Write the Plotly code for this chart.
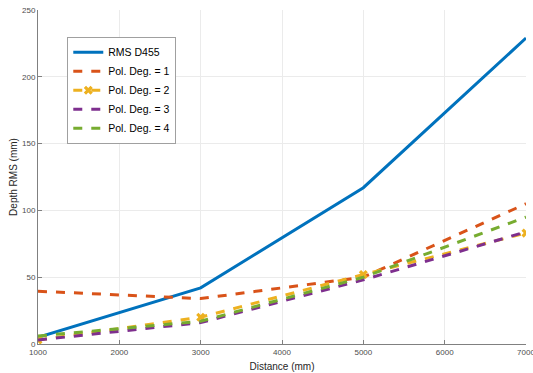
import plotly.graph_objects as go

distance = [1000, 3000, 5000, 7000]
rms_d455 = [5, 42, 117, 229]
pol1 = [39.5, 34, 50, 105]
pol2 = [3, 20, 52, 83]
pol3 = [3, 16, 48, 84]
pol4 = [6, 17, 50, 95]

x_ticks = [1000, 2000, 3000, 4000, 5000, 6000, 7000]
y_ticks = [0, 50, 100, 150, 200, 250]

fig = go.Figure()
fig.add_trace(go.Scatter(x=distance, y=rms_d455, name="RMS D455", mode="lines",
                         line=dict(color="#0072BD", width=3)))
fig.add_trace(go.Scatter(x=distance, y=pol1, name="Pol. Deg. = 1", mode="lines",
                         line=dict(color="#D95319", width=3, dash="dash")))
fig.add_trace(go.Scatter(x=distance, y=pol2, name="Pol. Deg. = 2", mode="lines+markers",
                         line=dict(color="#EDB120", width=3, dash="dash"),
                         marker=dict(symbol="x", size=8, color="#EDB120")))
fig.add_trace(go.Scatter(x=distance, y=pol3, name="Pol. Deg. = 3", mode="lines",
                         line=dict(color="#7E2F8E", width=3, dash="dash")))
fig.add_trace(go.Scatter(x=distance, y=pol4, name="Pol. Deg. = 4", mode="lines",
                         line=dict(color="#77AC30", width=3, dash="dash")))

fig.update_layout(
    width=533, height=373,
    margin=dict(l=38, r=7, t=10, b=29),
    paper_bgcolor="white", plot_bgcolor="white",
    font=dict(family="Liberation Sans, Arial", color="#262626"),
    showlegend=True,
    legend=dict(x=0.06, y=0.92, xanchor="left", yanchor="top",
                bgcolor="white", bordercolor="#a0a0a0", borderwidth=1,
                font=dict(size=10.5, color="#000"), tracegroupgap=0,
                itemwidth=30),
    xaxis=dict(range=[1000, 7000], tickvals=x_ticks, tickfont=dict(size=8, color="#4d4d4d"),
               ticklabeloverflow="allow", automargin=False,
               showgrid=True, gridcolor="#ebebeb", zeroline=False,
               showline=True, linecolor="#808080", ticks="inside", ticklen=4, tickcolor="#808080",
               title=dict(text="Distance (mm)", font=dict(size=10, color="#262626"), standoff=7)),
    yaxis=dict(range=[0, 250], tickvals=y_ticks, tickfont=dict(size=8, color="#4d4d4d"),
               automargin=False,
               showgrid=True, gridcolor="#ebebeb", zeroline=False,
               showline=True, linecolor="#808080", ticks="inside", ticklen=4, tickcolor="#808080",
               title=dict(text="Depth RMS (mm)", font=dict(size=10, color="#262626"), standoff=2)),
)

fig.write_html("out.html")
